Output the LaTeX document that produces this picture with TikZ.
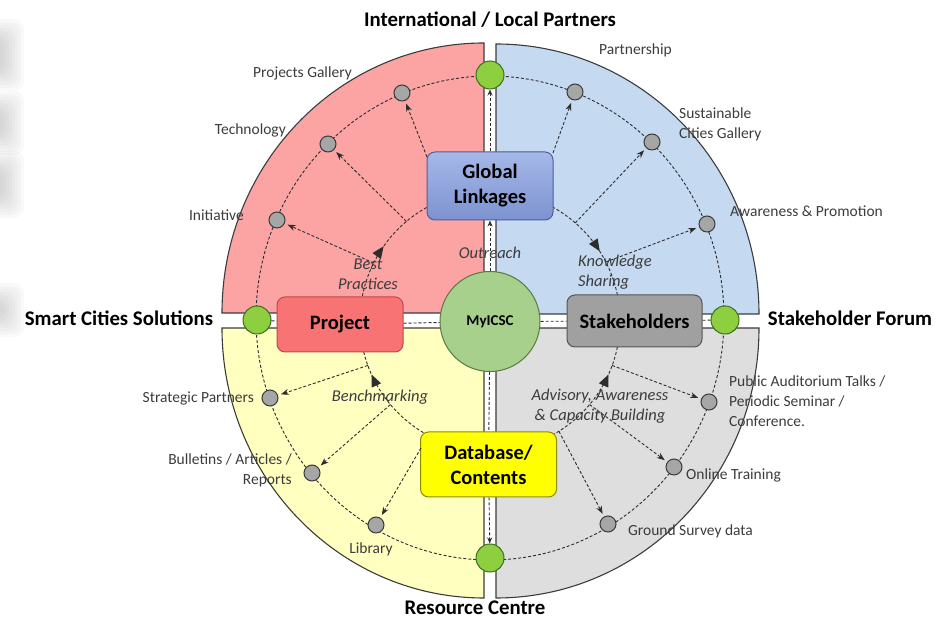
\documentclass[tikz,border=0pt]{standalone}
\usepackage{fontspec}
\setmainfont{Carlito}
\usetikzlibrary{arrows.meta,decorations.markings,calc,shapes.geometric}
\definecolor{qred}{RGB}{252,163,163}
\definecolor{qblue}{RGB}{197,217,241}
\definecolor{qyellow}{RGB}{255,255,192}
\definecolor{qgray}{RGB}{222,222,222}
\definecolor{qedge}{RGB}{60,60,60}
\definecolor{dashc}{RGB}{45,45,45}
\definecolor{txtc}{RGB}{60,60,60}
\definecolor{glfill}{RGB}{142,165,220}
\definecolor{gltop}{RGB}{165,184,232}
\definecolor{glbot}{RGB}{125,147,208}
\definecolor{gledge}{RGB}{75,95,160}
\definecolor{prfill}{RGB}{248,115,115}
\definecolor{predge}{RGB}{190,75,75}
\definecolor{stfill}{RGB}{160,160,160}
\definecolor{stedge}{RGB}{85,85,85}
\definecolor{dbfill}{RGB}{255,255,0}
\definecolor{dbedge}{RGB}{140,140,0}
\definecolor{myfill}{RGB}{168,208,141}
\definecolor{myedge}{RGB}{90,120,65}
\definecolor{grfill}{RGB}{141,207,63}
\definecolor{gredge}{RGB}{59,110,31}
\definecolor{dotfill}{RGB}{166,166,166}
\definecolor{dotedge}{RGB}{58,58,58}
\definecolor{blob}{RGB}{90,90,90}
\begin{document}
\begin{tikzpicture}[x=1pt,y=1pt,
  quad/.style={draw=qedge,line width=1.1pt},
  ringline/.style={draw=dashc,dash pattern=on 3pt off 2pt,line width=0.9pt},
  flow/.style={ringline,-{Stealth[length=8pt,width=6pt]},shorten >=3pt},
  midarrow/.style={ringline,postaction={decorate},
    decoration={markings,mark=at position #1 with {\arrow{Triangle[length=12pt,width=10pt]}}}},
  boxnode/.style={rounded corners=8pt,line width=1pt,align=center,
    font=\fontsize{20.5}{25}\selectfont\bfseries,inner sep=2pt},
  greendot/.style={circle,fill=grfill,draw=gredge,line width=1pt,minimum size=28pt,inner sep=0pt},
  graydot/.style={circle,fill=dotfill,draw=dotedge,line width=1pt,minimum size=16pt,inner sep=0pt},
  smalllab/.style={font=\fontsize{15.5}{20}\selectfont,text=txtc,inner sep=0pt},
  itlab/.style={font=\fontsize{16.5}{20}\selectfont\itshape,text=txtc,inner sep=0pt},
  biglab/.style={font=\fontsize{20.8}{24}\selectfont\bfseries,text=black,inner sep=0pt},
  blobstyle/.style={fill=blob,opacity=0.035,rounded corners=10pt}
]
\useasboundingbox (0,0) rectangle (935,620);
% faint blurred shadows at the left edge
\foreach \cy/\h in {565/36,497/32,436/34,310/27}{
  \foreach \k in {0,...,7}{
    \path[blobstyle] (-30+\k*3,\cy-\h+\k*3) rectangle (24-\k*3,\cy+\h-\k*3);
  }
}
% quadrants
\path[quad,fill=qred] (484,307) -- (222,307) arc[start angle=180,end angle=90,x radius=262,y radius=270] -- cycle;
\path[quad,fill=qblue] (496,306) -- (496,576) arc[start angle=90,end angle=0,x radius=263,y radius=270] -- cycle;
\path[quad,fill=qyellow] (484,292) -- (222,292) arc[start angle=180,end angle=270,x radius=262,y radius=270] -- cycle;
\path[quad,fill=qgray] (496,292) -- (759,292) arc[start angle=0,end angle=-90,x radius=263,y radius=270] -- cycle;
% outer dashed ring
\draw[ringline] (490,302) ellipse[x radius=234,y radius=242];
% inner arcs
\coordinate (C) at (490,299);
\draw[midarrow=0.39] ($(C)+(180:130)$) arc[start angle=180,end angle=90,radius=130];
\draw[midarrow=0.64] ($(C)+(90:130)$) arc[start angle=90,end angle=0,radius=130];
\draw[midarrow=0.73] ($(C)+(270:130)$) arc[start angle=270,end angle=180,radius=130];
\draw[midarrow=0.73] ($(C)+(270:130)$) arc[start angle=270,end angle=360,radius=130];
% nodes
\node[boxnode,fill=glfill,top color=gltop,bottom color=glbot,draw=gledge,minimum width=126pt,minimum height=68pt] (gl) at (490,434) {Global\\Linkages};
\node[boxnode,fill=prfill,draw=predge,minimum width=126pt,minimum height=55pt] (pr) at (340,295.5) {Project};
\node[boxnode,fill=stfill,draw=stedge,minimum width=135pt,minimum height=52pt] (st) at (634.5,299) {Stakeholders};
\node[boxnode,fill=dbfill,draw=dbedge,minimum width=136pt,minimum height=65pt] (db) at (488.5,155.5) {Database/\\Contents};
\node[circle,fill=myfill,draw=myedge,line width=1pt,minimum size=100pt,inner sep=0pt,font=\fontsize{15}{18}\selectfont\bfseries] (my) at (490,298.5) {MyICSC};
\node[greendot] (gt) at (490,545) {};
\node[greendot] (gb) at (490,62) {};
\node[greendot] (gleft) at (257,300) {};
\node[greendot] (gright) at (725,300) {};
% gap connectors
\draw[ringline,-{Stealth[length=6pt,width=5pt]}] (gl) -- (gt);
\draw[ringline,-{Stealth[length=6pt,width=5pt]}] (my) -- (gl);
\draw[ringline] (my) -- (db);
\draw[ringline,-{Stealth[length=6pt,width=5pt]}] (db) -- (gb);
\draw[ringline] (gleft) -- (pr);
\draw[ringline] (pr) -- (my);
\draw[ringline] (my) -- (st);
\draw[ringline] (st) -- (gright);
% gray dots
\node[graydot] (r1) at (402,527) {};
\node[graydot] (r2) at (328,476) {};
\node[graydot] (r3) at (277,400) {};
\node[graydot] (b1) at (575,528) {};
\node[graydot] (b2) at (652,478) {};
\node[graydot] (b3) at (707,396) {};
\node[graydot] (y1) at (270,222) {};
\node[graydot] (y2) at (312,147) {};
\node[graydot] (y3) at (376,95) {};
\node[graydot] (s1) at (709,218) {};
\node[graydot] (s2) at (674,153) {};
\node[graydot] (s3) at (608,96) {};
% tails
\coordinate (tr1) at (427,463);
\coordinate (tr2) at ($(C)+(130:130)$);
\coordinate (tr3) at ($(C)+(153.5:130)$);
\coordinate (tb1) at (553,467);
\coordinate (tb2) at ($(C)+(49:130)$);
\coordinate (tb3) at ($(C)+(27:130)$);
\coordinate (ts1) at ($(C)+(-20:130)$);
\coordinate (ts2) at ($(C)+(-40:130)$);
\coordinate (ts3) at ($(C)+(-58:130)$);
\coordinate (ty1) at ($(C)+(200:130)$);
\coordinate (ty2) at ($(C)+(220:130)$);
\coordinate (ty3) at (421,172);
\draw[flow] (tr1) -- (r1);
\draw[flow] (tr2) -- (r2);
\draw[flow] (tr3) -- (r3);
\draw[flow] (tb1) -- (b1);
\draw[flow] (tb2) -- (b2);
\draw[flow] (tb3) -- (b3);
\draw[flow] (ts1) -- (s1);
\draw[flow] (ts2) -- (s2);
\draw[flow] (ts3) -- (s3);
\draw[flow] (ty1) -- (y1);
\draw[flow] (ty2) -- (y2);
\draw[flow] (ty3) -- (y3);
% big labels
\node[biglab] (lt) at (490,600) {International / Local Partners};
\node[biglab] (lb) at (475,12) {Resource Centre};
\node[biglab] (ll) at (119,302) {Smart Cities Solutions};
\node[biglab] (lr) at (850,302) {Stakeholder Forum};
% small labels
\node[smalllab,anchor=east] (lr1) at (352,547) {Projects Gallery};
\node[smalllab,anchor=east] (lr2) at (286,490) {Technology};
\node[smalllab,anchor=east] (lr3) at (244,405) {Initiative};
\node[smalllab,anchor=west] (lb1) at (599,570) {Partnership};
\node[smalllab,anchor=west,align=left] (lb2) at (679,496) {Sustainable\\Cities Gallery};
\node[smalllab,anchor=west] (lb3) at (730,409) {Awareness \& Promotion};
\node[smalllab,anchor=east] (ly1) at (254,221) {Strategic Partners};
\node[smalllab,anchor=east,align=right] (ly2) at (292,149.5) {Bulletins / Articles /\\Reports};
\node[smalllab] (ly3) at (371,71) {Library};
\node[smalllab,anchor=west,align=left] (ls1) at (729,219) {Public Auditorium Talks /\\Periodic Seminar /\\Conference.};
\node[smalllab,anchor=west] (ls2) at (686,145) {Online Training};
\node[smalllab,anchor=west] (ls3) at (628,89) {Ground Survey data};
% italic labels
\node[itlab] (io) at (490,367) {Outreach};
\node[itlab,align=center] (ibp) at (368,346) {Best\\Practices};
\node[itlab,align=left,anchor=west] (iks) at (578,348) {Knowledge\\Sharing};
\node[itlab] (ibm) at (380,223) {Benchmarking};
\node[itlab,align=center] (iad) at (600,213.5) {Advisory, Awareness\\\& Capacity Building};
\end{tikzpicture}
\end{document}
